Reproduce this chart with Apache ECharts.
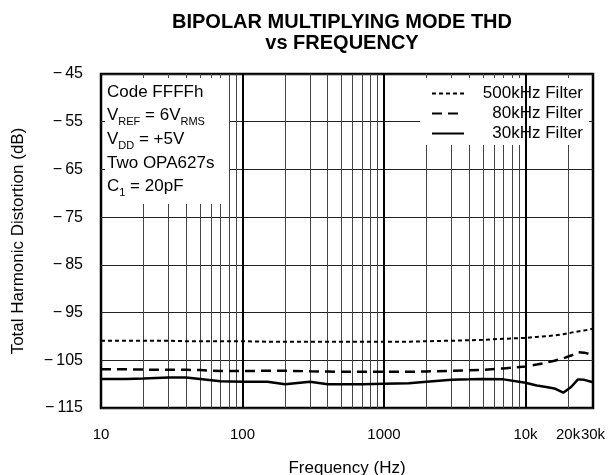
<!DOCTYPE html>
<html>
<head>
<meta charset="utf-8">
<script src="https://cdn.jsdelivr.net/npm/echarts@6/dist/echarts.min.js"></script>
<style>
  html, body { margin: 0; padding: 0; background: #fff; }
  #chart { width: 608px; height: 475px; }
</style>
</head>
<body>
<div id="chart"></div>
<script>
// frequency points (Hz), shared by all three curves
const freqs = [10, 15, 20, 30, 40, 50, 70, 100, 150, 200, 300, 400, 500, 700, 1000,
  1500, 2000, 3000, 4000, 5000, 7000, 10000, 12000, 14000, 16000, 18500, 21000, 23500, 26000, 30000]

// THD (dB)
const thd500k = [-100.9, -100.9, -100.9, -100.9, -101.0, -101.0, -101.0, -101.0, -101.1, -101.1, -101.1, -101.1, -101.1, -101.1, -101.1,
  -101.1, -101.0, -100.9, -100.8, -100.7, -100.5, -100.3, -100.1, -99.95, -99.8, -99.55, -99.2, -98.95, -98.75, -98.4]
const thd80k = [-106.9, -106.9, -106.95, -107.0, -107.0, -107.05, -107.25, -107.25, -107.2, -107.2, -107.3, -107.35, -107.4, -107.4, -107.4,
  -107.4, -107.35, -107.2, -107.1, -107.0, -106.7, -106.3, -105.9, -105.5, -105.1, -104.6, -104.0, -103.3, -103.4, -103.9]
const thd30k = [-108.9, -108.9, -108.8, -108.6, -108.6, -108.9, -109.4, -109.5, -109.5, -110.0, -109.5, -110.0, -110.0, -110.0, -109.9,
  -109.8, -109.5, -109.1, -109.0, -108.9, -109.0, -109.7, -110.3, -110.6, -110.9, -111.8, -110.6, -109.0, -109.1, -109.6]

// axis ticks
const yTicks = [-115, -105, -95, -85, -75, -65, -55, -45]
const xLabelVals = [10, 100, 1000, 10000, 20000, 30000]
const xLabelText = { 10: '10', 100: '100', 1000: '1000', 10000: '10k', 20000: '20k', 30000: '30k' }
const xGridVals = [20, 30, 40, 50, 60, 70, 80, 90, 100, 200, 300, 400, 500, 600, 700, 800, 900, 1000,
  2000, 3000, 4000, 5000, 6000, 7000, 8000, 9000, 10000, 20000]
const decades = [100, 1000, 10000]

const pairs = vals => freqs.map((f, i) => [f, vals[i]])

const chart = echarts.init(document.getElementById('chart'))
const font = 'Liberation Sans, Arial, Helvetica, sans-serif'

chart.setOption({
  animation: false,
  textStyle: { fontFamily: font, color: '#000' },
  title: {
    text: 'BIPOLAR MULTIPLYING MODE THD\nvs FREQUENCY',
    left: 337,
    top: 7,
    textAlign: 'center',
    textStyle: { fontSize: 20, fontWeight: 'bold', lineHeight: 21, fontFamily: font, color: '#000' }
  },
  grid: {
    left: 101, right: 15, top: 74, bottom: 67,
    outerBoundsMode: 'none',
    containLabel: false,
    show: true, borderColor: '#000', borderWidth: 2.5, backgroundColor: 'transparent'
  },
  legend: {
    orient: 'vertical',
    right: 20,
    top: 80,
    z: 10,
    itemWidth: 32,
    itemHeight: 14,
    itemGap: 3,
    itemStyle: { opacity: 0 },
    data: ['500kHz Filter', '80kHz Filter', '30kHz Filter'],
    formatter: name => '{t|' + name + '}',
    textStyle: {
      fontSize: 17, color: '#000', fontFamily: font,
      rich: { t: { width: 114, align: 'right', fontSize: 17, lineHeight: 21, fontFamily: font } }
    }
  },
  xAxis: {
    type: 'log',
    logBase: 10,
    min: 10,
    max: 30000,
    name: 'Frequency (Hz)',
    nameLocation: 'middle',
    nameGap: 52,
    nameTextStyle: { fontSize: 17, color: '#000' },
    axisLine: { show: false },
    axisTick: { show: false, customValues: xGridVals },
    axisLabel: {
      customValues: xLabelVals,
      interval: 0,
      formatter: v => xLabelText[Math.round(v)] || '',
      fontSize: 15, color: '#000', margin: 19
    },
    splitLine: { show: true, lineStyle: { color: '#444', width: 1 } }
  },
  yAxis: {
    type: 'value',
    min: -115,
    max: -45,
    name: 'Total Harmonic Distortion (dB)',
    nameLocation: 'middle',
    nameGap: 74,
    nameTextStyle: { fontSize: 17, color: '#000' },
    axisLine: { show: false },
    axisTick: { show: false, customValues: yTicks },
    axisLabel: {
      customValues: yTicks,
      formatter: v => String(v).replace('-', '\u2212\u2009'),
      fontSize: 16, color: '#000', margin: 18
    },
    splitLine: { show: true, lineStyle: { color: '#222', width: 1 } }
  },
  graphic: [
    // note box, top left
    { type: 'rect', z: 5, shape: { x: 105, y: 78, width: 124, height: 126 }, style: { fill: '#fff' } },
    {
      type: 'text', z: 6, left: 107, top: 80,
      style: {
        text: 'Code FFFFh\n{n|V}{s|REF}{n| = 6V}{s|RMS}\n{n|V}{s|DD}{n| = +5V}\nTwo OPA627s\n{n|C}{s|1}{n| = 20pF}',
        font: '17px ' + font,
        fill: '#000',
        lineHeight: 23.7,
        rich: {
          n: { fontSize: 17, fontFamily: font, lineHeight: 23.7 },
          s: { fontSize: 11, fontFamily: font, verticalAlign: 'bottom', lineHeight: 17 }
        }
      }
    },
    // legend box, top right
    { type: 'rect', z: 5, shape: { x: 420, y: 78, width: 169, height: 67 }, style: { fill: '#fff' } }
  ],
  series: [
    {
      name: '500kHz Filter',
      type: 'line',
      symbol: 'none',
      data: pairs(thd500k),
      lineStyle: { color: '#000', width: 2, type: [4, 3] },
      itemStyle: { color: '#000' },
      markLine: {
        silent: true,
        symbol: 'none',
        label: { show: false },
        lineStyle: { color: '#000', width: 2, type: 'solid' },
        data: decades.map(d => ({ xAxis: d }))
      }
    },
    {
      name: '80kHz Filter',
      type: 'line',
      symbol: 'none',
      data: pairs(thd80k),
      lineStyle: { color: '#000', width: 2.5, type: [10, 6] },
      itemStyle: { color: '#000' }
    },
    {
      name: '30kHz Filter',
      type: 'line',
      symbol: 'none',
      data: pairs(thd30k),
      lineStyle: { color: '#000', width: 2.5 },
      itemStyle: { color: '#000' }
    }
  ]
})
</script>
</body>
</html>
